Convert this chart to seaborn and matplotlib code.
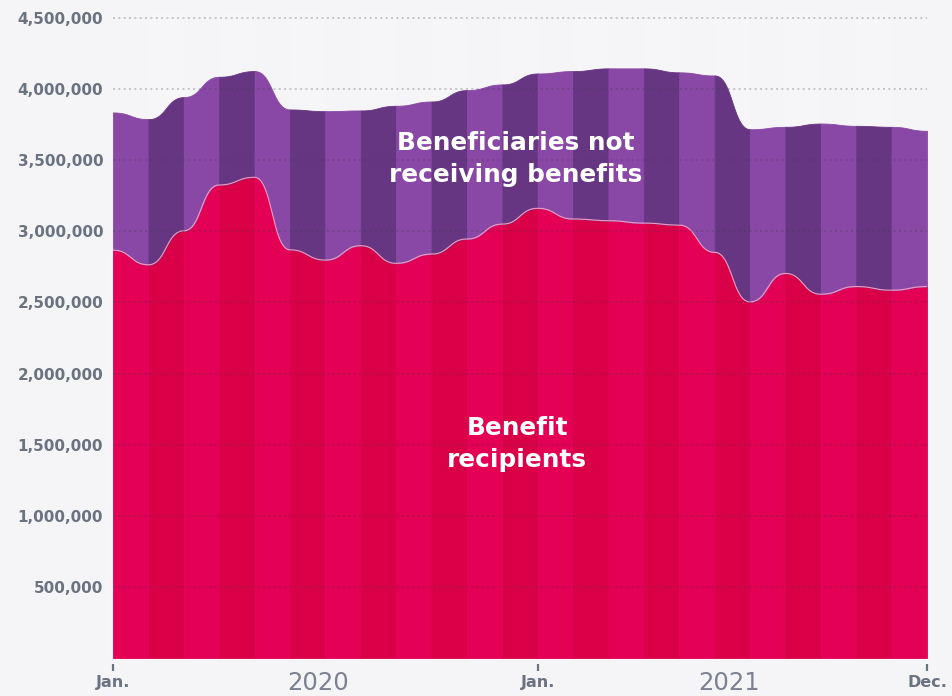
import numpy as np
import pandas as pd
import matplotlib.pyplot as plt
import matplotlib.transforms as mtransforms
import seaborn as sns

# monthly values, Jan 2020 .. Dec 2021
months = pd.date_range("2020-01-01", periods=24, freq="MS")
total_beneficiaries = [3836000, 3789000, 3944000, 4087000, 4127000, 3857000,
                       3845000, 3850000, 3883000, 3913000, 3993000, 4033000,
                       4110000, 4127000, 4146000, 4146000, 4118000, 4096000,
                       3718000, 3735000, 3758000, 3742000, 3735000, 3707000]
benefit_recipients = [2868000, 2765000, 3004000, 3326000, 3380000, 2870000,
                      2798000, 2899000, 2775000, 2840000, 2946000, 3051000,
                      3162000, 3087000, 3075000, 3058000, 3044000, 2852000,
                      2504000, 2704000, 2558000, 2612000, 2586000, 2612000]
y_ticks = [500000, 1000000, 1500000, 2000000, 2500000, 3000000, 3500000, 4000000, 4500000]
x_tick_pos = [0, 12, 23]
x_tick_labels = ["Jan.", "Jan.", "Dec."]
year_labels = ["2020", "2021"]

BG = "#F5F5F7"
GREY = "#6B7280"
PURPLE = ["#8A48A6", "#673682"]
RED = ["#E30055", "#DA0047"]
EDGE = "#F29AC0"


def bump_segment(x0, y0, x1, y1, n=40):
    # bezier with horizontal tangents at both ends (like d3 curveBumpX)
    t = np.linspace(0, 1, n)
    xs = x0 + (x1 - x0) * (1.5 * t - 1.5 * t**2 + t**3)
    ys = y0 + (y1 - y0) * (3 * t**2 - 2 * t**3)
    return xs, ys


sns.set_theme(style="white")
plt.rcParams["font.family"] = ["DejaVu Sans"]

fig = plt.figure(figsize=(9.53, 6.96), dpi=100, facecolor=BG)
ax = fig.add_axes([113 / 953, 1 - 658 / 696, (927 - 113) / 953, (658 - 10.9) / 696])
ax.set_facecolor(BG)

line_x, line_y = [], []
for i in range(len(months) - 1):
    # faint month stripes in the background
    if i % 2 == 1:
        ax.axvspan(i, i + 1, color="white", alpha=0.18, lw=0, zorder=0)
    sx, rec = bump_segment(i, benefit_recipients[i], i + 1, benefit_recipients[i + 1])
    _, tot = bump_segment(i, total_beneficiaries[i], i + 1, total_beneficiaries[i + 1])
    ax.fill_between(sx, 0, rec, color=RED[i % 2], lw=0.6, edgecolor=RED[i % 2], zorder=1)
    ax.fill_between(sx, rec, tot, color=PURPLE[i % 2], lw=0.6, edgecolor=PURPLE[i % 2], zorder=1)
    line_x.extend(sx)
    line_y.extend(rec)

sns.lineplot(x=line_x, y=line_y, color=EDGE, lw=0.8, sort=False,
             estimator=None, ax=ax, zorder=2)
# thin light edge on the right end of the areas
last = len(months) - 1
ax.vlines(last, 0, total_beneficiaries[-1], color=EDGE, lw=0.8, alpha=0.8, zorder=2)

ax.set_xlim(0, last)
ax.set_ylim(0, 4550000)
ax.set_yticks(y_ticks)
ax.set_yticklabels([f"{v:,}" for v in y_ticks])
ax.set_xticks(x_tick_pos)
ax.set_xticklabels(x_tick_labels)

ax.set_axisbelow(False)
ax.yaxis.grid(True, color="#3A3A4A", alpha=0.27, lw=1.4, linestyle=(0, (1, 1.75)),
              dash_capstyle="butt")
ax.xaxis.grid(False)
for sp in ax.spines.values():
    sp.set_visible(False)
ax.spines["bottom"].set_position(("outward", 4))

ax.tick_params(axis="y", length=0, pad=7, labelsize=11, labelcolor=GREY)
ax.tick_params(axis="x", length=5, width=1.6, color=GREY, pad=3, labelsize=11.5,
               labelcolor=GREY, bottom=True, direction="out")
for lab in ax.get_yticklabels() + ax.get_xticklabels():
    lab.set_fontweight("bold")

trans = mtransforms.blended_transform_factory(ax.transData, ax.transAxes)
ax.text(5.8, -0.039, year_labels[0], transform=trans, ha="center", va="center",
        fontsize=17.5, color="#7B8190")
ax.text(17.4, -0.039, year_labels[1], transform=trans, ha="center", va="center",
        fontsize=17.5, color="#7B8190")

ax.text(11.39, 3509000, "Beneficiaries not\nreceiving benefits", ha="center", va="center",
        fontsize=17.8, fontweight="bold", color="white", linespacing=1.45, zorder=5)
ax.text(11.42, 1505000, "Benefit\nrecipients", ha="center", va="center",
        fontsize=17.8, fontweight="bold", color="white", linespacing=1.45, zorder=5)

fig.savefig("out.png", dpi=100, facecolor=BG)
